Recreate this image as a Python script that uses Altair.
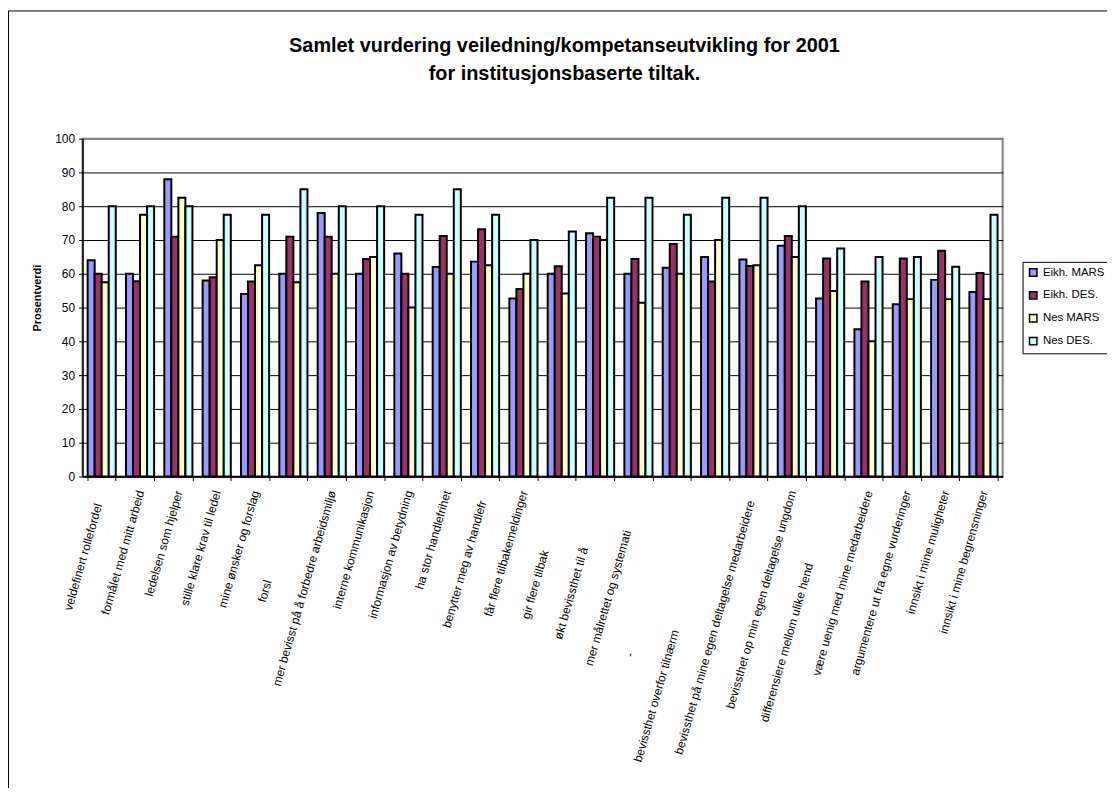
import altair as alt
import pandas as pd

FONT = "Liberation Sans"

categories = [
    "veldefinert rollefordel",
    "formålet med mitt arbeid",
    "ledelsen som hjelper",
    "stille klare krav til ledel",
    "mine ønsker og forslag",
    "forsl",
    "mer bevisst på å forbedre arbeidsmiljø",
    "interne kommunikasjon",
    "informasjon av betydning",
    "ha stor handlefrihet",
    "benytter meg av handlefr",
    "får flere tilbakemeldinger",
    "gir flere tilbak",
    "økt bevissthet til å",
    "mer målrettet og systemati",
    "-",
    "bevissthet overfor tilnærm",
    "bevissthet på mine egen deltagelse medarbeidere",
    "bevissthet op min egen deltagelse ungdom",
    "differensiere mellom ulike hend",
    "være uenig med mine medarbeidere",
    "argumentere ut fra egne vurderinger",
    "innsikt i mine muligheter",
    "innsikt i mine begrensninger",
]

series = ["Eikh. MARS", "Eikh. DES.", "Nes MARS", "Nes DES."]

eikh_mars = [64, 60, 88, 58, 54, 60, 78, 60, 66, 62, 63.6, 52.7, 60, 72, 60, 61.8,
             65, 64.2, 68.3, 52.7, 43.6, 51, 58.2, 54.6]
eikh_des = [60, 57.8, 71, 59, 57.7, 71, 71, 64.4, 60, 71.2, 73.2, 55.5, 62.2, 71, 64.4, 68.8,
            57.7, 62.3, 71.2, 64.5, 57.7, 64.5, 66.8, 60.2]
nes_mars = [57.5, 77.5, 82.5, 70, 62.5, 57.5, 60, 65, 50, 60, 62.5, 60, 54.2, 70, 51.4, 60,
            70, 62.5, 65, 54.9, 40, 52.5, 52.5, 52.5]
nes_des = [80, 80, 80, 77.5, 77.5, 85, 80, 80, 77.5, 85, 77.5, 70, 72.5, 82.5, 82.5, 77.5,
           82.5, 82.5, 80, 67.5, 65, 65, 62.1, 77.5]

colors = ["#9999FF", "#993366", "#FFFFCC", "#CCFFFF"]

rows = []
for s, vals in zip(series, [eikh_mars, eikh_des, nes_mars, nes_des]):
    for c, v in zip(categories, vals):
        rows.append({"kategori": c, "serie": s, "verdi": v})
df = pd.DataFrame(rows)

# style: some labels sit further away from the axis (as in the original)
label_shift = {
    "veldefinert rollefordel": 13,
    "forsl": 90,
    "benytter meg av handlefr": 10,
    "gir flere tilbak": 60,
    "økt bevissthet til å": 57,
    "mer målrettet og systemati": 40,
    "-": 163,
    "bevissthet overfor tilnærm": 140,
    "bevissthet på mine egen deltagelse medarbeidere": 10,
    "differensiere mellom ulike hend": 73,
}
BASE_PAD = 10
pad_cond = {
    "condition": [{"test": f"datum.value == '{k}'", "value": BASE_PAD + v} for k, v in label_shift.items()],
    "value": BASE_PAD,
}
off_cond = {
    "condition": [{"test": f"datum.value == '{k}'", "value": round(-0.29 * v, 1)} for k, v in label_shift.items()],
    "value": 0,
}

bars = alt.Chart(df).mark_bar(stroke="black", strokeWidth=2).encode(
    x=alt.X(
        "kategori:N",
        sort=categories,
        title=None,
        scale=alt.Scale(paddingInner=0.266, paddingOuter=0.133),
        axis=alt.Axis(
            labelAngle=-74,
            tickBand="extent",
            grid=False,
            domainColor="black",
            domainWidth=1.5,
            tickColor="black",
            tickSize=4,
            labelFont=FONT,
            labelFontSize=12,
            labelColor="black",
            labelLimit=400,
            labelOverlap=False,
            labelBound=False,
            labelPadding=pad_cond,
            labelOffset=off_cond,
        ),
    ),
    xOffset=alt.XOffset("serie:N", sort=series, scale=alt.Scale(paddingInner=0, paddingOuter=0)),
    y=alt.Y(
        "verdi:Q",
        scale=alt.Scale(domain=[0, 100], nice=False),
        axis=alt.Axis(
            values=list(range(0, 101, 10)),
            title="Prosentverdi",
            titleFont=FONT,
            titleFontSize=11,
            titleFontWeight="bold",
            titleColor="black",
            titleX=-40,
            titleY=160,
            titleAlign="center",
            grid=True,
            gridColor={"condition": {"test": "datum.value == 100", "value": "#808080"}, "value": "black"},
            gridWidth=1,
            domainColor="black",
            domainWidth=1.5,
            tickColor="black",
            tickSize=4,
            labelFont=FONT,
            labelFontSize=12,
            labelColor="black",
            labelPadding=4,
        ),
    ),
    color=alt.Color(
        "serie:N",
        sort=series,
        scale=alt.Scale(domain=series, range=colors),
        legend=alt.Legend(
            orient="none",
            legendX=946,
            legendY=124,
            title=None,
            strokeColor="black",
            fillColor="white",
            padding=5,
            symbolType="square",
            symbolSize=56,
            symbolStrokeColor="black",
            symbolStrokeWidth=1.5,
            labelFont=FONT,
            labelFontSize=11.5,
            labelColor="black",
            labelOffset=4,
            rowPadding=9,
        ),
    ),
)

frame = pd.DataFrame({"k": [0]})
left_line = alt.Chart(frame).mark_rule(color="black", strokeWidth=1).encode(
    x=alt.value(-74.5), y=alt.value(-128.5), y2=alt.value(700)
)
top_line = alt.Chart(frame).mark_rule(color="black", strokeWidth=1).encode(
    x=alt.value(-74.5), x2=alt.value(1100), y=alt.value(-128.5)
)

chart = alt.layer(bars, left_line, top_line).properties(
    width=926,
    height=340,
    autosize=alt.AutoSizeParams(type="none"),
    padding={"left": 75, "top": 129, "right": 105, "bottom": 311},
    title=alt.Title(
        ["Samlet vurdering veiledning/kompetanseutvikling for 2001", "for institusjonsbaserte tiltak."],
        font=FONT,
        fontSize=20,
        fontWeight="bold",
        color="black",
        frame="group",
        anchor="middle",
        offset=0,
        dy=74,
        dx=22,
        lineHeight=28,
    ),
).configure_view(stroke="#808080", strokeWidth=2)

chart.save("out.html", embed_options={"renderer": "svg", "actions": False})
